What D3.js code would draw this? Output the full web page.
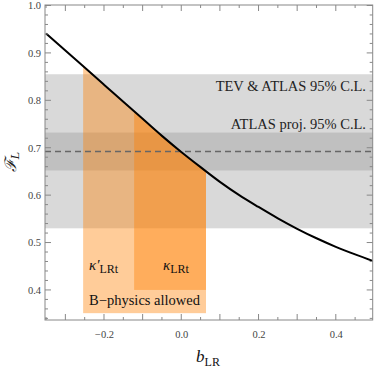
<!DOCTYPE html>
<html><head><meta charset="utf-8">
<script src="https://cdn.jsdelivr.net/npm/d3@7/dist/d3.min.js"></script>
<style>
html,body{margin:0;padding:0;background:#fff;}
svg{display:block;}
</style></head>
<body><svg id="chart" width="374" height="373"></svg>
<script>
// ---- data ----
const bLR = [-0.35,-0.30,-0.25,-0.20,-0.15,-0.10,-0.05,0.00,0.05,0.10,0.15,0.20,0.25,0.30,0.35,0.40,0.45,0.50];
const FL  = [0.941,0.905,0.869,0.833,0.797,0.761,0.725,0.691,0.659,0.628,0.600,0.575,0.551,0.529,0.509,0.491,0.475,0.460];
const bandTevAtlas = [0.530, 0.855];
const bandAtlasProj = [0.652, 0.732];
const smValue = 0.692;
const kappaPrimeRange = [-0.254, 0.064];
const kappaPrimeMin = 0.351;
const kappaRange = [-0.122, 0.064];
const kappaMin = 0.400;
const xTicks = [-0.2, 0.0, 0.2, 0.4];
const yTicks = [0.4, 0.5, 0.6, 0.7, 0.8, 0.9, 1.0];
const bandLabels = ["TEV & ATLAS 95% C.L.", "ATLAS proj. 95% C.L."];

// ---- layout ----
const SERIF = '"Liberation Serif","Times New Roman",serif';
const svg = d3.select("#chart");
const L = 45, R = 372.7, T = 5, B = 320;
const x = d3.scaleLinear().domain([-0.3527, 0.4955]).range([L, R]);
const y = d3.scaleLinear().domain([0.3366, 1.0]).range([B, 5.5]);

const defs = svg.append("defs");
defs.append("clipPath").attr("id","plot").append("rect")
  .attr("x",L).attr("y",T).attr("width",R-L).attr("height",B-T);
const pts = bLR.map((b,i)=>[b,FL[i]]);
defs.append("clipPath").attr("id","under").append("path")
  .attr("d", d3.area().x(d=>x(d[0])).y0(B).y1(d=>y(d[1])).curve(d3.curveMonotoneX)(pts));

const g = svg.append("g").attr("clip-path","url(#plot)");

// gray bands
g.append("rect").attr("x",L).attr("width",R-L)
  .attr("y",y(bandTevAtlas[1])).attr("height",y(bandTevAtlas[0])-y(bandTevAtlas[1]))
  .attr("fill","#d9d9d9");
g.append("rect").attr("x",L).attr("width",R-L)
  .attr("y",y(bandAtlasProj[1])).attr("height",y(bandAtlasProj[0])-y(bandAtlasProj[1]))
  .attr("fill","#c0c0c0");

// orange regions under curve
const og = g.append("g").attr("clip-path","url(#under)");
og.append("rect").attr("x",x(kappaPrimeRange[0])).attr("width",x(kappaPrimeRange[1])-x(kappaPrimeRange[0]))
  .attr("y",T).attr("height",y(kappaPrimeMin)-T).attr("fill","rgb(255,128,0)").attr("fill-opacity",0.4);
og.append("rect").attr("x",x(kappaRange[0])).attr("width",x(kappaRange[1])-x(kappaRange[0]))
  .attr("y",T).attr("height",y(kappaMin)-T).attr("fill","rgb(255,128,0)").attr("fill-opacity",0.4);

// dashed SM line
g.append("line").attr("x1",L).attr("x2",R).attr("y1",y(smValue)).attr("y2",y(smValue))
  .attr("stroke","#666").attr("stroke-width",1.4).attr("stroke-dasharray","6,4");

// curve
g.append("path").attr("d", d3.line().x(d=>x(d[0])).y(d=>y(d[1])).curve(d3.curveMonotoneX)(pts))
  .attr("fill","none").attr("stroke","#000").attr("stroke-width",2);

// band labels
svg.append("text").attr("x",366).attr("y",91).attr("text-anchor","end").style("font-family",SERIF)
  .attr("font-size","14.5px").attr("fill","#222").text(bandLabels[0]);
svg.append("text").attr("x",366).attr("y",129).attr("text-anchor","end").style("font-family",SERIF)
  .attr("font-size","14.5px").attr("fill","#222").text(bandLabels[1]);

// kappa labels
const k1 = svg.append("text").attr("x",89).attr("y",270).style("font-family",SERIF).attr("font-size","15px").attr("fill","#111");
k1.append("tspan").attr("font-style","italic").text("κ′");
k1.append("tspan").attr("dy",3).attr("font-size","12px").text("LRt");
const k2 = svg.append("text").attr("x",163).attr("y",270).style("font-family",SERIF).attr("font-size","15px").attr("fill","#111");
k2.append("tspan").attr("font-style","italic").text("κ");
k2.append("tspan").attr("dy",3).attr("font-size","12px").text("LRt");
svg.append("text").attr("x",x((kappaPrimeRange[0]+kappaPrimeRange[1])/2)).attr("y",305).style("font-family",SERIF)
  .attr("text-anchor","middle").attr("font-size","14.5px").attr("fill","#111").text("B−physics allowed");

// frame with ticks
const frameColor = "#888";
const axB = d3.axisBottom(x).tickValues(xTicks).tickSize(0).tickPadding(4);
const axL = d3.axisLeft(y).tickValues(yTicks).tickSize(0).tickPadding(4);
const gx = svg.append("g").attr("transform",`translate(0,${B})`).call(axB);
gx.select(".domain").remove();
gx.selectAll("text").style("font-family",SERIF).attr("font-size","10.5px").attr("fill","#444").attr("dy","1.35em")
  .text(d=>d<0?"−"+Math.abs(d).toFixed(1):d.toFixed(1));
const gy = svg.append("g").attr("transform",`translate(${L},0)`).call(axL);
gy.select(".domain").remove();
gy.selectAll("text").style("font-family",SERIF).attr("font-size","10.5px").attr("fill","#444")
  .text(d=>d.toFixed(1));

svg.append("rect").attr("x",L).attr("y",T).attr("width",R-L).attr("height",B-T)
  .attr("fill","none").attr("stroke",frameColor).attr("stroke-width",1);

const xMinor = d3.range(-0.35, 0.5001, 0.05).map(v=>+v.toFixed(2));
const yMinor = d3.range(0.34, 1.0001, 0.02).map(v=>+v.toFixed(2));
const isMajor = (v, step) => Math.abs(v/step - Math.round(v/step)) < 1e-6;
const tk = svg.append("g").attr("stroke",frameColor).attr("stroke-width",1);
xMinor.forEach(v=>{
  const len = isMajor(v,0.1) ? 6 : 3;
  if (x(v) < L || x(v) > R) return;
  tk.append("line").attr("x1",x(v)).attr("x2",x(v)).attr("y1",B).attr("y2",B-len);
  tk.append("line").attr("x1",x(v)).attr("x2",x(v)).attr("y1",T).attr("y2",T+len);
});
yMinor.forEach(v=>{
  const len = isMajor(v,0.1) ? 6 : 3;
  if (y(v) > B || y(v) < T) return;
  tk.append("line").attr("x1",L).attr("x2",L+len).attr("y1",y(v)).attr("y2",y(v));
  tk.append("line").attr("x1",R).attr("x2",R-len).attr("y1",y(v)).attr("y2",y(v));
});

// axis titles
const yl = svg.append("text").attr("transform",`translate(16,162) rotate(-90)`)
  .attr("text-anchor","middle").style("font-family",'"DejaVu Serif",serif').attr("font-size","16px").attr("fill","#222");
yl.append("tspan").attr("font-style","italic").text("ℱ");
yl.append("tspan").attr("dy",3).attr("font-size","11px").attr("font-style","italic").text("L");
const xl = svg.append("text").attr("x",208).attr("y",362).attr("text-anchor","middle").style("font-family",SERIF)
  .attr("font-size","17px").attr("fill","#111");
xl.append("tspan").attr("font-style","italic").text("b");
xl.append("tspan").attr("dy",4).attr("font-size","12px").text("LR");
</script></body></html>
